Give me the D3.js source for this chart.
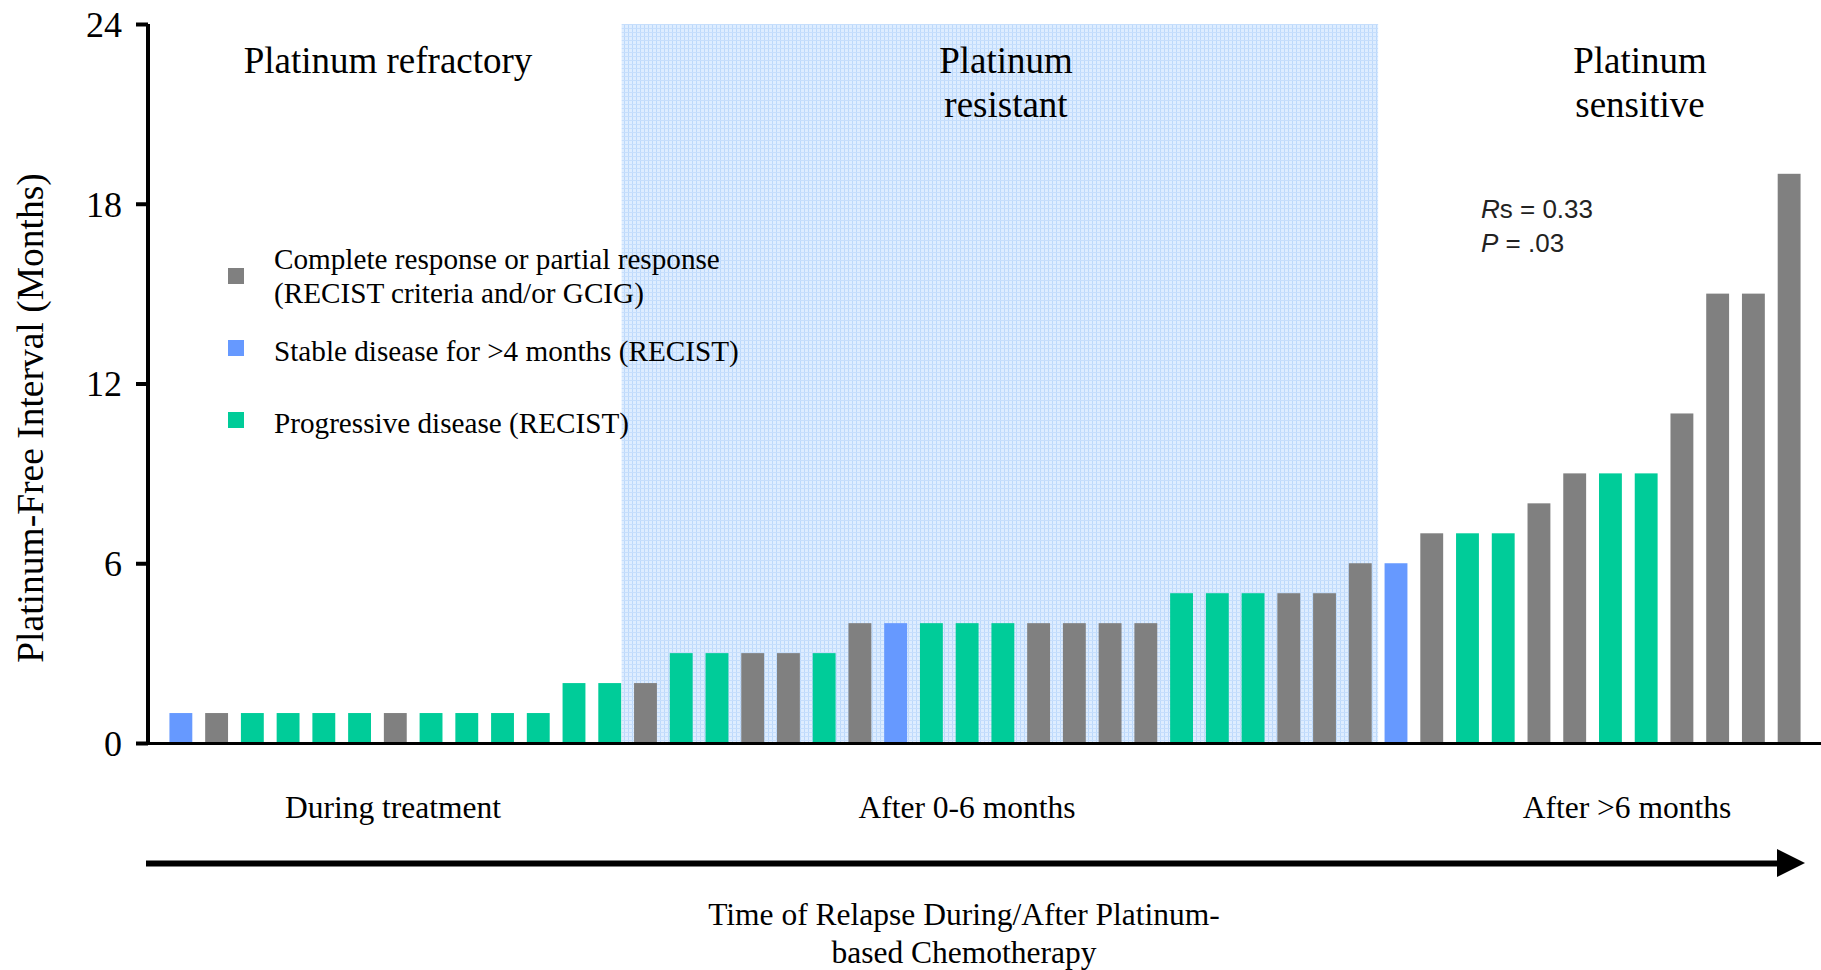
<!DOCTYPE html>
<html>
<head>
<meta charset="utf-8">
<script src="https://cdn.jsdelivr.net/npm/d3@7"></script>
<style>
  body { margin: 0; background: #fff; }
  svg { display: block; }
</style>
</head>
<body>
<script>
// Platinum-free interval per patient, sorted by time of relapse
var values = [1, 1, 1, 1, 1, 1, 1, 1, 1, 1, 1, 2, 2,
    2, 3, 3, 3, 3, 3, 4, 4, 4, 4, 4, 4, 4, 4, 4, 5, 5, 5, 5, 5, 6,
    6, 7, 7, 7, 8, 9, 9, 9, 11, 15, 15, 19];
var responses = ['SD', 'CR', 'PD', 'PD', 'PD', 'PD', 'CR', 'PD', 'PD', 'PD', 'PD', 'PD', 'PD',
    'CR', 'PD', 'PD', 'CR', 'CR', 'PD', 'CR', 'SD', 'PD', 'PD', 'PD', 'CR', 'CR', 'CR', 'CR', 'PD', 'PD', 'PD', 'CR', 'CR', 'CR',
    'SD', 'CR', 'PD', 'PD', 'CR', 'CR', 'PD', 'PD', 'CR', 'CR', 'CR', 'CR'];
var yTicks = [0, 6, 12, 18, 24];
var legendKeys = ['CR', 'SD', 'PD'];
var legendLabels = [
    ['Complete response or partial response', '(RECIST criteria and/or GCIG)'],
    ['Stable disease for >4 months (RECIST)'],
    ['Progressive disease (RECIST)']
];
var groupTitles = [['Platinum refractory'], ['Platinum', 'resistant'], ['Platinum', 'sensitive']];
var relapseLabels = ['During treatment', 'After 0-6 months', 'After >6 months'];
// first/last patient index of the "resistant" group
var resistantRange = [13, 33];

var W = 1821, H = 970;
var SERIF = '"Liberation Serif", "Times New Roman", serif';
var SANS = '"Liberation Sans", Arial, sans-serif';

var color = d3.scaleOrdinal()
    .domain(['CR', 'SD', 'PD'])
    .range(['#808080', '#6699ff', '#00cc99']);

var x = d3.scaleBand()
    .domain(d3.range(values.length))
    .range([163, 1807])
    .paddingInner(0.36)
    .paddingOuter(0.18);

var y = d3.scaleLinear().domain([0, 24]).range([743, 24]);

var svg = d3.select('body').append('svg')
    .attr('width', W)
    .attr('height', H);

// Grid-like light blue fill for the resistant zone
var defs = svg.append('defs');
var pat = defs.append('pattern')
    .attr('id', 'grid')
    .attr('width', 4)
    .attr('height', 4)
    .attr('patternUnits', 'userSpaceOnUse');
pat.append('rect').attr('width', 4).attr('height', 4).attr('fill', '#deedff');
pat.append('rect').attr('width', 1).attr('height', 4).attr('fill', '#bcd9fb');
pat.append('rect').attr('width', 4).attr('height', 1).attr('fill', '#c6defc');

var gap = x.step() - x.bandwidth();
var shadeX0 = x(resistantRange[0]) - gap / 2 - 6;
var shadeX1 = x(resistantRange[1]) + x.bandwidth() + gap / 2;
svg.append('rect')
    .attr('x', shadeX0)
    .attr('y', y(24))
    .attr('width', shadeX1 - shadeX0)
    .attr('height', y(0) - y(24))
    .attr('fill', 'url(#grid)');

// Bars
svg.append('g').selectAll('rect')
    .data(values)
    .join('rect')
    .attr('x', function(d, i) { return x(i); })
    .attr('y', function(d) { return y(d); })
    .attr('width', x.bandwidth())
    .attr('height', function(d) { return y(0) - y(d) + 2; })
    .attr('fill', function(d, i) { return color(responses[i]); });

// Baseline
svg.append('line')
    .attr('x1', 147).attr('x2', W)
    .attr('y1', y(0) + 0.5).attr('y2', y(0) + 0.5)
    .attr('stroke', '#000')
    .attr('stroke-width', 3);

// Y axis
var yAxis = svg.append('g')
    .attr('transform', 'translate(148,0)')
    .call(d3.axisLeft(y).tickValues(yTicks).tickSize(12).tickPadding(14));
yAxis.select('.domain').attr('stroke-width', 4).attr('d', 'M0,' + y(24) + 'V' + (y(0) + 2));
yAxis.selectAll('.tick line').attr('stroke-width', 4);
yAxis.selectAll('.tick text')
    .attr('font-family', SERIF)
    .attr('font-size', 36)
    .attr('fill', '#000')
    .attr('dy', '0.34em');

svg.append('text')
    .attr('transform', 'translate(43,418) rotate(-90)')
    .attr('text-anchor', 'middle')
    .attr('font-family', SERIF)
    .attr('font-size', 37.5)
    .text('Platinum-Free Interval (Months)');

// Group titles
var titleX = [388, 1006, 1640];
groupTitles.forEach(function(lines, i) {
    var t = svg.append('text')
        .attr('text-anchor', 'middle')
        .attr('font-family', SERIF)
        .attr('font-size', 37);
    lines.forEach(function(line, j) {
        t.append('tspan').attr('x', titleX[i]).attr('y', 73 + j * 44).text(line);
    });
});

// Legend
var legendY = [276, 348, 420];
legendKeys.forEach(function(k, i) {
    svg.append('rect')
        .attr('x', 228).attr('y', legendY[i] - 8)
        .attr('width', 16).attr('height', 16)
        .attr('fill', color(k));
    var lines = legendLabels[i];
    var top = lines.length === 2 ? 269 : legendY[i] + 13;
    var t = svg.append('text')
        .attr('font-family', SERIF)
        .attr('font-size', 29.2);
    lines.forEach(function(line, j) {
        t.append('tspan').attr('x', 274).attr('y', top + j * 34).text(line);
    });
});

// Correlation annotation
var stat = svg.append('text')
    .attr('font-family', SANS)
    .attr('font-size', 26)
    .attr('fill', '#222')
    .attr('x', 1481).attr('y', 218);
stat.append('tspan').attr('font-style', 'italic').text('R');
stat.append('tspan').text('s = 0.33');
var stat2 = svg.append('text')
    .attr('font-family', SANS)
    .attr('font-size', 26)
    .attr('fill', '#222')
    .attr('x', 1481).attr('y', 252);
stat2.append('tspan').attr('font-style', 'italic').text('P');
stat2.append('tspan').text(' = .03');

// Relapse timing labels
var relapseX = [393, 967, 1627];
relapseLabels.forEach(function(l, i) {
    svg.append('text')
        .attr('x', relapseX[i]).attr('y', 818)
        .attr('text-anchor', 'middle')
        .attr('font-family', SERIF)
        .attr('font-size', 31.5)
        .text(l);
});

// Time arrow
svg.append('line')
    .attr('x1', 146).attr('x2', 1780)
    .attr('y1', 863.5).attr('y2', 863.5)
    .attr('stroke', '#000')
    .attr('stroke-width', 6);
svg.append('path')
    .attr('d', d3.line()([[1777, 849], [1805, 863], [1777, 877]]) + 'Z')
    .attr('fill', '#000');

var xt = svg.append('text')
    .attr('text-anchor', 'middle')
    .attr('font-family', SERIF)
    .attr('font-size', 31.5);
xt.append('tspan').attr('x', 964).attr('y', 925).text('Time of Relapse During/After Platinum-');
xt.append('tspan').attr('x', 964).attr('y', 963).text('based Chemotherapy');
</script>
</body>
</html>
